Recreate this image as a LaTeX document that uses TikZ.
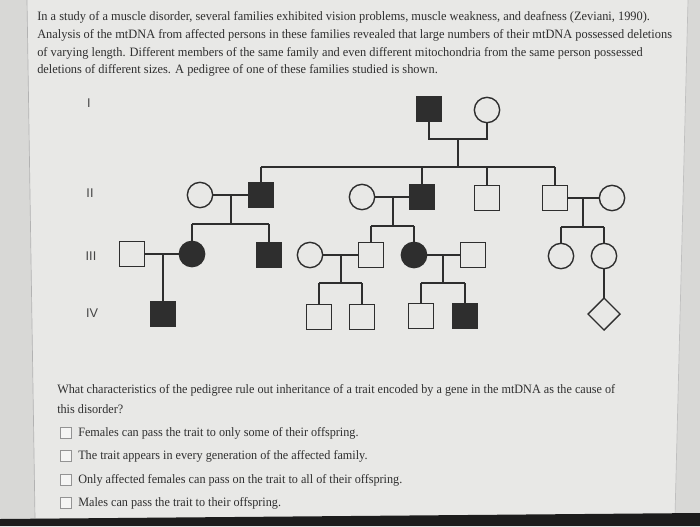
\documentclass[tikz,border=0pt]{standalone}
\usepackage{fontspec}
\setmainfont{Liberation Serif}
\newfontfamily\labfont{Liberation Sans}
\usetikzlibrary{shapes.geometric}
\definecolor{panel}{HTML}{E8E8E6}
\definecolor{sidestrip}{HTML}{D8D8D6}
\definecolor{ink}{HTML}{2E2E2E}
\definecolor{txt}{HTML}{2F2F2F}
\definecolor{labtxt}{HTML}{444444}
\definecolor{band}{HTML}{1C1C1C}
\newcommand{\pscale}[1]{\scalebox{0.967}[1]{#1}}
\newcommand{\qscale}[1]{\scalebox{0.952}[1]{#1}}
\tikzset{
  pline/.style={draw=ink, line width=1.05pt},
  osq/.style={draw=ink, line width=1.05pt, fill=panel, minimum size=18.5pt, inner sep=0pt, outer sep=0pt},
  fsq/.style={osq, fill=ink},
  ocir/.style={circle, draw=ink, line width=1.05pt, fill=panel, minimum size=19pt, inner sep=0pt, outer sep=0pt},
  fcir/.style={ocir, fill=ink},
  odia/.style={diamond, draw=ink, line width=1.05pt, fill=panel, minimum size=24pt, inner sep=0pt, outer sep=0pt},
  para/.style={anchor=west, inner sep=0pt, text=txt, font=\fontsize{9.6}{11}\selectfont},
  genlab/.style={inner sep=0pt, text=labtxt, font=\labfont\fontsize{9.5}{10}\selectfont},
  cbox/.style={draw=gray!85, line width=0.6pt, fill=white!55!panel, minimum size=8.3pt, inner sep=0pt},
}
\begin{document}
\begin{tikzpicture}[x=0.75pt, y=-0.75pt]
\useasboundingbox (0,0) rectangle (700,526);
% background
\fill[sidestrip] (0,0) rectangle (700,526);
\fill[panel] (27,0) -- (688,0) -- (675,516) -- (35,518) -- cycle;
\draw[gray!60, line width=0.5pt] (27,0) -- (35,518);
\draw[gray!50, line width=0.5pt] (688,0) -- (675,516);
\fill[band] (0,519) -- (700,513) -- (700,526) -- (0,526) -- cycle;

% paragraph
\node[para] (p1) at (37,17) {\pscale{In a study of a muscle disorder, several families exhibited vision problems, muscle weakness, and deafness (Zeviani, 1990).}};
\node[para] (p2) at (37,35) {\pscale{Analysis of the mtDNA from affected persons in these families revealed that large numbers of their mtDNA possessed deletions}};
\node[para] (p3) at (37,53) {\pscale{of varying length. Different members of the same family and even different mitochondria from the same person possessed}};
\node[para] (p4) at (37,70) {\pscale{deletions of different sizes. A pedigree of one of these families studied is shown.}};

% generation labels
\node[genlab] (g1) at (89,103) {I};
\node[genlab] (g2) at (90,193) {II};
\node[genlab] (g3) at (91,256) {III};
\node[genlab] (g4) at (92,313) {IV};

% Generation I
\node[fsq] (I1) at (429,109) {};
\node[ocir] (I2) at (487,110) {};
\coordinate (I1b) at (429,139);
\coordinate (I2b) at (487,139);
\coordinate (Im) at (458,139);
\coordinate (Is) at (458,167);
\coordinate (SL) at (261,167);
\coordinate (SR) at (555,167);
\draw[pline] (I1.south) -- (I1b) -- (I2b) -- (I2.south);
\draw[pline] (Im) -- (Is);
\draw[pline] (SL) -- (SR);

% Generation II
\node[ocir] (II1) at (200,195) {};
\node[fsq] (II2) at (261,195) {};
\node[ocir] (II3) at (362,197) {};
\node[fsq] (II4) at (422,197) {};
\node[osq] (II5) at (487,198) {};
\node[osq] (II6) at (555,198) {};
\node[ocir] (II7) at (612,198) {};
\draw[pline] (SL) -- (II2.north);
\draw[pline] (II4.north |- SL) -- (II4.north);
\draw[pline] (II5.north |- SL) -- (II5.north);
\draw[pline] (SR) -- (II6.north);
\draw[pline] (II1.east) -- (II2.west);
\draw[pline] (II3.east) -- (II4.west);
\draw[pline] (II6.east) -- (II7.west);
\coordinate (m1) at (231,195); \coordinate (s1) at (231,224);
\coordinate (m2) at (393,197); \coordinate (s2) at (393,226);
\coordinate (m3) at (583,198); \coordinate (s3) at (583,227);
\draw[pline] (m1) -- (s1);
\draw[pline] (m2) -- (s2);
\draw[pline] (m3) -- (s3);

% Generation III
\node[osq] (III1) at (132,254) {};
\node[fcir] (III2) at (192,254) {};
\node[fsq] (III3) at (269,255) {};
\node[ocir] (III4) at (310,255) {};
\node[osq] (III5) at (371,255) {};
\node[fcir] (III6) at (414,255) {};
\node[osq] (III7) at (473,255) {};
\node[ocir] (III8) at (561,256) {};
\node[ocir] (III9) at (604,256) {};
\draw[pline] (III2.north |- s1) -- (III3.north |- s1);
\draw[pline] (III2.north |- s1) -- (III2.north);
\draw[pline] (III3.north |- s1) -- (III3.north);
\draw[pline] (III5.north |- s2) -- (III6.north |- s2);
\draw[pline] (III5.north |- s2) -- (III5.north);
\draw[pline] (III6.north |- s2) -- (III6.north);
\draw[pline] (III8.north |- s3) -- (III9.north |- s3);
\draw[pline] (III8.north |- s3) -- (III8.north);
\draw[pline] (III9.north |- s3) -- (III9.north);
\draw[pline] (III1.east) -- (III2.west);
\draw[pline] (III4.east) -- (III5.west);
\draw[pline] (III6.east) -- (III7.west);
\coordinate (m4) at (163,254);
\coordinate (m5) at (341,255); \coordinate (s5) at (341,283);
\coordinate (m6) at (443,255); \coordinate (s6) at (443,283);
\draw[pline] (m5) -- (s5);
\draw[pline] (m6) -- (s6);

% Generation IV
\node[fsq] (IV1) at (163,314) {};
\node[osq] (IV2) at (319,317) {};
\node[osq] (IV3) at (362,317) {};
\node[osq] (IV4) at (421,316) {};
\node[fsq] (IV5) at (465,316) {};
\node[odia] (IV6) at (604,314) {};
\draw[pline] (m4) -- (IV1.north);
\draw[pline] (IV2.north |- s5) -- (IV3.north |- s5);
\draw[pline] (IV2.north |- s5) -- (IV2.north);
\draw[pline] (IV3.north |- s5) -- (IV3.north);
\draw[pline] (IV4.north |- s6) -- (IV5.north |- s6);
\draw[pline] (IV4.north |- s6) -- (IV4.north);
\draw[pline] (IV5.north |- s6) -- (IV5.north);
\draw[pline] (III9.south) -- (IV6.north);

% question
\node[para] (q1) at (57,390) {\qscale{What characteristics of the pedigree rule out inheritance of a trait encoded by a gene in the mtDNA as the cause of}};
\node[para] (q2) at (57,409) {\qscale{this disorder?}};
\node[cbox] (c1) at (66,433) {};
\node[cbox] (c2) at (66,456) {};
\node[cbox] (c3) at (66,480) {};
\node[cbox] (c4) at (66,503) {};
\node[para] (o1) at (78,433) {\qscale{Females can pass the trait to only some of their offspring.}};
\node[para] (o2) at (78,456) {\qscale{The trait appears in every generation of the affected family.}};
\node[para] (o3) at (78,480) {\qscale{Only affected females can pass on the trait to all of their offspring.}};
\node[para] (o4) at (78,503) {\qscale{Males can pass the trait to their offspring.}};
\end{tikzpicture}
\end{document}
